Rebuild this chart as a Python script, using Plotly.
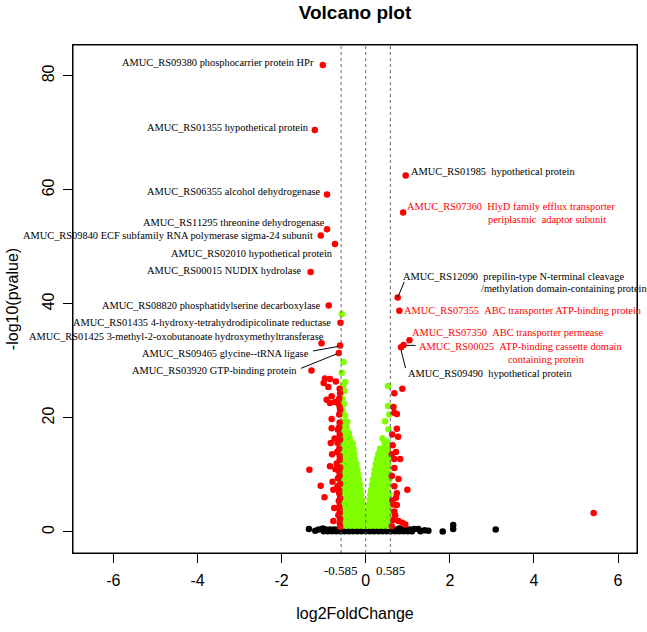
import plotly.graph_objects as go

# ---------------- data ----------------
lab_names = [
    "AMUC_RS09380 phosphocarrier protein HPr",
    "AMUC_RS01355 hypothetical protein",
    "AMUC_RS06355 alcohol dehydrogenase",
    "AMUC_RS11295 threonine dehydrogenase",
    "AMUC_RS09840 ECF subfamily RNA polymerase sigma-24 subunit",
    "AMUC_RS02010 hypothetical protein",
    "AMUC_RS00015 NUDIX hydrolase",
    "AMUC_RS08820 phosphatidylserine decarboxylase",
    "AMUC_RS01435 4-hydroxy-tetrahydrodipicolinate reductase",
    "AMUC_RS01425 3-methyl-2-oxobutanoate hydroxymethyltransferase",
    "AMUC_RS09465 glycine--tRNA ligase",
    "AMUC_RS03920 GTP-binding protein",
    "AMUC_RS01985\u00a0\u00a0hypothetical protein",
    "AMUC_RS07360\u00a0\u00a0HlyD family efflux transporter|periplasmic\u00a0\u00a0adaptor subunit",
    "AMUC_RS12090\u00a0\u00a0prepilin-type N-terminal cleavage|/methylation domain-containing protein",
    "AMUC_RS07355\u00a0\u00a0ABC transporter ATP-binding protein",
    "AMUC_RS07350\u00a0\u00a0ABC transporter permease",
    "AMUC_RS00025\u00a0\u00a0ATP-binding cassette domain|containing protein",
    "AMUC_RS09490\u00a0\u00a0hypothetical protein",
]
lab_x = [-1.02, -1.21, -0.92, -0.92, -1.07, -0.73, -1.31, -0.88, -0.60, -1.05, -0.61, -0.64,
         0.95, 0.89, 0.76, 0.80, 1.04, 0.90, 0.84]
lab_y = [81.9, 70.5, 59.2, 53.1, 52.0, 50.5, 45.6, 39.7, 36.7, 33.1, 32.7, 31.4,
         62.5, 56.0, 41.1, 38.8, 33.6, 32.8, 32.4]

red_x = [-1.29, -0.97, -0.85, -0.71, -1.00, -0.89, -0.81, -0.93, -0.85, -0.73, -0.66, -0.63,
         -0.81, -0.63, -0.62, -0.81, -0.66, -0.62, -0.83, -0.67, -0.63, -0.80, -0.68, -0.62,
         -1.34, -0.85, -0.69, -0.63, -0.66, -0.79, -1.07, -0.77, -0.67, -0.63, -0.98, -0.64,
         -0.62, -0.77, -0.65, -0.63, -0.61, -0.62, -0.61, -0.62, -0.61, -0.63, -0.61, -0.62,
         -0.61, -0.62, -0.61, -0.63, -0.61, -0.62, -0.61, -0.62, -0.72, -0.75, -0.74,
         0.87, 0.68, 0.66, 0.68, 0.74, 0.74, 0.77, 0.72, 0.68, 0.82, 0.68, 0.78, 0.68, 0.99,
         0.74, 0.72, 0.66, 0.74, 0.66, 0.78, 0.87, 0.94, 0.70, 0.68, 0.62, 0.63, 0.62, 0.64,
         0.63, 0.62, 5.42]
red_y = [28.3, 26.9, 26.8, 26.4, 26.1, 25.4, 23.8, 23.2, 22.6, 22.8, 22.6, 23.4,
         19.8, 20.6, 19.2, 18.2, 17.9, 17.0, 15.6, 15.6, 14.6, 13.6, 14.0, 12.6,
         10.9, 11.5, 12.0, 10.6, 9.4, 8.8, 8.1, 7.4, 8.0, 6.8, 6.1, 5.4,
         3.3, 1.9, 2.9, 4.4, 0.9, 1.6, 2.3, 3.9, 5.9, 7.3, 8.4, 9.9,
         11.3, 13.3, 16.2, 18.4, 21.4, 21.9, 24.3, 25.1, 11.0, 4.2, 16.4,
         25.1, 24.3, 21.9, 20.9, 20.7, 18.1, 16.7, 14.0, 12.8, 12.8, 11.2, 9.3, 8.0, 7.4,
         6.8, 6.0, 4.8, 4.7, 2.1, 1.9, 1.6, 1.3, 2.9, 3.6, 1.0, 5.5, 9.8, 15.2,
         17.1, 13.6, 3.3]

green_x = [
    -0.57, -0.47, -0.37, -0.27, -0.17, -0.07, -0.03,
    -0.56, -0.46, -0.36, -0.26, -0.16, -0.06,
    -0.57, -0.47, -0.37, -0.27, -0.17, -0.07, -0.05,
    -0.55, -0.45, -0.35, -0.25, -0.15, -0.07,
    -0.57, -0.47, -0.37, -0.27, -0.17, -0.08,
    -0.56, -0.46, -0.36, -0.26, -0.16, -0.09,
    -0.57, -0.47, -0.37, -0.27, -0.18, -0.11,
    -0.55, -0.45, -0.35, -0.25, -0.16, -0.12,
    -0.57, -0.47, -0.37, -0.27, -0.18, -0.14,
    -0.56, -0.46, -0.36, -0.26, -0.16,
    -0.57, -0.47, -0.37, -0.27, -0.18,
    -0.55, -0.45, -0.35, -0.26, -0.20,
    -0.57, -0.47, -0.37, -0.28, -0.22,
    -0.56, -0.46, -0.36, -0.26,
    -0.57, -0.47, -0.37, -0.27,
    -0.55, -0.45, -0.36, -0.29,
    -0.57, -0.47, -0.38, -0.31,
    -0.56, -0.46, -0.38,
    -0.57, -0.48, -0.40,
    -0.55, -0.46,
    -0.52, -0.44,
    -0.49, -0.55, -0.52, -0.56, -0.50, -0.54, -0.49, -0.57, -0.53, -0.57,
    0.03, 0.12, 0.22, 0.32, 0.42, 0.52, 0.57,
    0.05, 0.15, 0.25, 0.35, 0.45, 0.55,
    0.06, 0.14, 0.24, 0.34, 0.44, 0.54, 0.57,
    0.07, 0.17, 0.27, 0.37, 0.47, 0.56,
    0.08, 0.16, 0.26, 0.36, 0.46, 0.55,
    0.10, 0.19, 0.29, 0.39, 0.49, 0.57,
    0.11, 0.20, 0.30, 0.40, 0.50, 0.56,
    0.13, 0.22, 0.32, 0.42, 0.52,
    0.15, 0.24, 0.34, 0.44, 0.54,
    0.17, 0.26, 0.36, 0.46, 0.56,
    0.20, 0.29, 0.39, 0.49, 0.57,
    0.22, 0.31, 0.41, 0.51,
    0.24, 0.33, 0.43, 0.53,
    0.27, 0.36, 0.46, 0.55,
    0.30, 0.39, 0.49, 0.57,
    0.34, 0.43, 0.52,
    0.45, 0.51, 0.40, 0.54, 0.46, 0.56, 0.53, 0.53, 0.34,
]
green_y = [
    1.1, 1.1, 1.1, 1.1, 1.1, 1.1, 1.1,
    2.0, 2.0, 2.0, 2.0, 2.0, 2.0,
    2.9, 2.9, 2.9, 2.9, 2.9, 2.9, 2.9,
    3.8, 3.8, 3.8, 3.8, 3.8, 3.8,
    4.7, 4.7, 4.7, 4.7, 4.7, 4.7,
    5.6, 5.6, 5.6, 5.6, 5.6, 5.6,
    6.5, 6.5, 6.5, 6.5, 6.5, 6.5,
    7.4, 7.4, 7.4, 7.4, 7.4, 7.4,
    8.3, 8.3, 8.3, 8.3, 8.3, 8.3,
    9.2, 9.2, 9.2, 9.2, 9.2,
    10.1, 10.1, 10.1, 10.1, 10.1,
    11.0, 11.0, 11.0, 11.0, 11.0,
    11.9, 11.9, 11.9, 11.9, 11.9,
    12.8, 12.8, 12.8, 12.8,
    13.7, 13.7, 13.7, 13.7,
    14.6, 14.6, 14.6, 14.6,
    15.5, 15.5, 15.5, 15.5,
    16.4, 16.4, 16.4,
    17.3, 17.3, 17.3,
    18.3, 18.3,
    19.3, 19.3,
    20.4, 21.3, 22.4, 23.4, 24.7, 25.6, 26.3, 27.9, 29.8, 38.2,
    1.1, 1.1, 1.1, 1.1, 1.1, 1.1, 1.1,
    2.0, 2.0, 2.0, 2.0, 2.0, 2.0,
    2.9, 2.9, 2.9, 2.9, 2.9, 2.9, 2.9,
    3.8, 3.8, 3.8, 3.8, 3.8, 3.8,
    4.7, 4.7, 4.7, 4.7, 4.7, 4.7,
    5.6, 5.6, 5.6, 5.6, 5.6, 5.6,
    6.5, 6.5, 6.5, 6.5, 6.5, 6.5,
    7.4, 7.4, 7.4, 7.4, 7.4,
    8.3, 8.3, 8.3, 8.3, 8.3,
    9.2, 9.2, 9.2, 9.2, 9.2,
    10.1, 10.1, 10.1, 10.1, 10.1,
    11.0, 11.0, 11.0, 11.0,
    11.9, 11.9, 11.9, 11.9,
    12.8, 12.8, 12.8, 12.8,
    13.7, 13.7, 13.7, 13.7,
    14.6, 14.6, 14.6,
    15.5, 15.8, 16.4, 18.0, 19.4, 20.6, 22.1, 25.6, 12.9,
]

black_x = [-1.00, -0.90, -0.80, -0.70, -0.60, -0.50, -0.40, -0.30, -0.20, -0.10, 0.00, 0.10,
           0.20, 0.30, 0.40, 0.50, 0.60, 0.70, 0.80, 0.90, 1.00, 1.10,
           -0.95, -0.85, -0.75, -0.65, -0.55, -0.45, -0.35, -0.25, -0.15, -0.05, 0.05, 0.15,
           0.25, 0.35, 0.45, 0.55, 0.65, 0.75, 0.85, 0.95, 1.05,
           -1.02, -0.62, -0.50, -0.38, -0.20, -0.02, 0.12, 0.30, 0.48, 0.64, 0.80, 1.15,
           -1.12, -1.20, 1.25, 1.30, -1.35, 1.40, 1.49, 1.83, 2.08, 2.08, 3.09]
black_y = [0.1, 0.1, 0.1, 0.1, 0.1, 0.1, 0.1, 0.1, 0.1, 0.1, 0.1, 0.1,
           0.1, 0.1, 0.1, 0.1, 0.1, 0.1, 0.1, 0.1, 0.1, 0.1,
           0.4, 0.4, 0.4, 0.4, 0.4, 0.4, 0.4, 0.4, 0.4, 0.4, 0.4, 0.4,
           0.4, 0.4, 0.4, 0.4, 0.4, 0.4, 0.4, 0.4, 0.4,
           0.6, 0.6, 0.6, 0.6, 0.6, 0.6, 0.6, 0.6, 0.6, 0.6, 0.6, 0.5,
           0.4, 0.2, 0.5, 0.1, 0.5, 0.3, 0.2, 0.05, 1.2, 0.5, 0.4]

x_ticks = [-6, -4, -2, 0, 2, 4, 6]
x_ticktext = ["-6", "-4", "-2", "0", "2", "4", "6"]
y_ticks = [0, 20, 40, 60, 80]
fc_cut = [-0.585, 0, 0.585]
fc_labels = ["-0.585", "0.585"]

# ---------------- figure ----------------
RED = "#FF0000"
GREEN = "#7FFF00"
MS = 6.5

fig = go.Figure()
fig.add_trace(go.Scatter(x=black_x, y=black_y, mode="markers",
                         marker=dict(color="black", size=MS, line=dict(width=0)),
                         hoverinfo="skip"))
fig.add_trace(go.Scatter(x=green_x, y=green_y, mode="markers",
                         marker=dict(color=GREEN, size=MS, line=dict(width=0)), hoverinfo="skip"))
fig.add_trace(go.Scatter(x=red_x, y=red_y, mode="markers",
                         marker=dict(color=RED, size=MS, line=dict(width=0)), hoverinfo="skip"))
fig.add_trace(go.Scatter(x=lab_x, y=lab_y, mode="markers",
                         marker=dict(color=RED, size=MS, line=dict(width=0)), hoverinfo="skip"))

for v in fc_cut:
    fig.add_shape(type="line", xref="x", yref="paper", x0=v, x1=v, y0=0, y1=1,
                  line=dict(color="#666666", width=1, dash="dot"))

# plot frame
fig.add_shape(type="rect", xref="paper", yref="paper", x0=0, x1=1, y0=0, y1=1,
              line=dict(color="black", width=1), fillcolor="rgba(0,0,0,0)", layer="above")

# label placement: (xanchor, xshift, yshift, color, second-line shift)
place = [
    ("right", -7, 2.7, "black", None),
    ("right", -4, 2.3, "black", None),
    ("right", -4, 2.6, "black", None),
    ("right", 0, 6.6, "black", None),
    ("right", -6, 0, "black", None),
    ("right", 0, -9.7, "black", None),
    ("right", -6.7, 1, "black", None),
    ("right", -6, 0, "black", None),
    ("right", -7.5, 0, "black", None),
    ("right", 4, 6.6, "black", None),
    ("right", -29, -7.6, "black", None),
    ("right", -40, -17.7, "black", None),
    ("left", 3, 3.7, "black", None),
    ("left", 2, 6, RED, (83, -6.6)),
    ("left", 3, 21.3, "black", (81, 8.7)),
    ("left", 3, 0, RED, None),
    ("left", 1, 7.4, RED, None),
    ("left", 13, -1.7, RED, (102, -14.3)),
    ("left", 5, -26.7, "black", None),
]
LFONT = dict(family="Liberation Serif, Times New Roman, serif", size=10.4)
for name, px, py, (xa, xs, ys, col, second) in zip(lab_names, lab_x, lab_y, place):
    parts = name.split("|")
    fig.add_annotation(x=px, y=py, xref="x", yref="y", text=parts[0], showarrow=False,
                       xanchor=xa, yanchor="middle", xshift=xs, yshift=ys,
                       font=dict(color=col, **LFONT))
    if second is not None:
        fig.add_annotation(x=px, y=py, xref="x", yref="y", text=parts[1], showarrow=False,
                           xanchor="left", yanchor="middle", xshift=second[0], yshift=second[1],
                           font=dict(color=col, **LFONT))

# leader lines (pixel offsets from the point)
leaders = {10: (-2, -1, -27, -5.5), 11: (-2, -1, -38, -15.5), 14: (0, 0, 6.5, 15.5),
           17: (3, -0.5, 12, -0.5), 18: (0, -3, 4.5, -21)}
for i, (x0, y0, x1, y1) in leaders.items():
    fig.add_shape(type="line", xref="x", yref="y", xsizemode="pixel", ysizemode="pixel",
                  xanchor=lab_x[i], yanchor=lab_y[i], x0=x0, x1=x1, y0=y0, y1=y1,
                  line=dict(color="black", width=1))

for v, t in zip([fc_cut[0], fc_cut[2]], fc_labels):
    fig.add_annotation(x=v, y=-0.034, xref="x", yref="paper", text=t, showarrow=False,
                       xanchor="center", yanchor="middle",
                       font=dict(family="Liberation Serif, Times New Roman, serif", size=13,
                                 color="black"))

SANS = "Liberation Sans, Arial, sans-serif"
fig.update_layout(
    template="none",
    width=647, height=632,
    margin=dict(l=73, r=10, t=45, b=79),
    paper_bgcolor="white", plot_bgcolor="white",
    showlegend=False,
    title=dict(text="<b>Volcano plot</b>", x=0.5, xref="paper", y=1 - 12 / 632,
               yref="container", xanchor="center", yanchor="middle",
               font=dict(family=SANS, size=19, color="black")),
    font=dict(family=SANS, color="black"),
)
fig.update_xaxes(range=[-6.96, 6.45], tickmode="array", tickvals=x_ticks, ticktext=x_ticktext,
                 ticks="outside", ticklen=9, ticklabelstandoff=4,
                 tickwidth=1, tickcolor="black", showline=True, linecolor="black",
                 linewidth=1, mirror=True, showgrid=False, zeroline=False,
                 tickfont=dict(family=SANS, size=16, color="black"),
                 title=dict(text="log2FoldChange", standoff=19,
                            font=dict(family=SANS, size=16, color="black")))
fig.update_yaxes(range=[-3.7, 85.4], tickmode="array", tickvals=y_ticks,
                 ticks="outside", ticklen=9, ticklabelstandoff=3,
                 tickwidth=1, tickcolor="black", showline=True, linecolor="black",
                 linewidth=1, mirror=True, showgrid=False, zeroline=False, tickangle=-90,
                 tickfont=dict(family=SANS, size=16, color="black"),
                 title=dict(text="-log10(pvalue)", standoff=16,
                            font=dict(family=SANS, size=16, color="black")))

fig.write_html("out.html", config={"displayModeBar": False},
               post_script="document.body.style.margin='0';"
                           "document.body.style.overflow='hidden';")
